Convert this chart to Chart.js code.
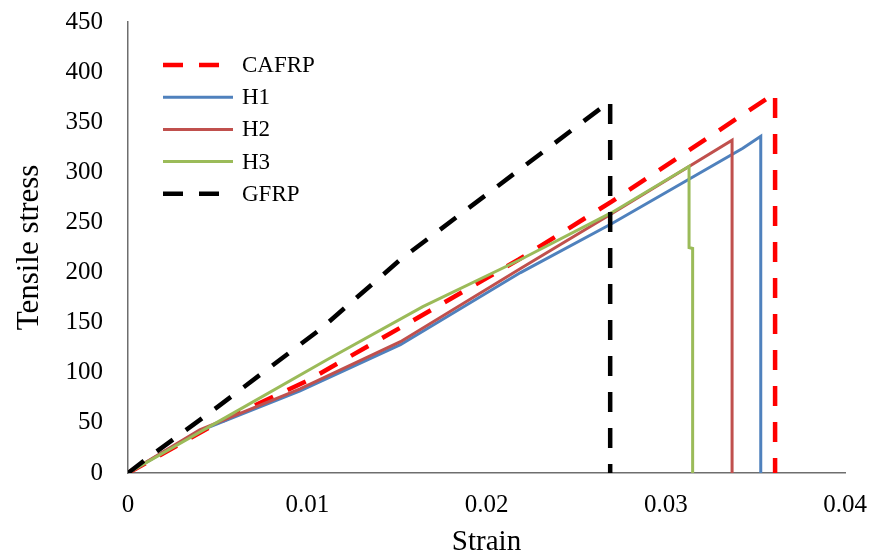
<!DOCTYPE html>
<html>
<head>
<meta charset="utf-8">
<script src="https://cdn.jsdelivr.net/npm/chart.js@4/dist/chart.umd.min.js"></script>
<style>
  html, body { margin: 0; padding: 0; background: #fff; }
  #wrap { width: 871px; height: 557px; }
</style>
</head>
<body>
<div id="wrap"><canvas id="chart" width="871" height="557"></canvas></div>
<script>
const seriesNames = ['CAFRP', 'H1', 'H2', 'H3', 'GFRP'];

const cafrpStrain = [0, 0.005, 0.010, 0.0152, 0.0218, 0.027, 0.0361, 0.0361];
const cafrpStress = [0, 50, 92, 145, 213, 271, 379, 0];

const h1Strain = [0, 0.004, 0.0096, 0.0152, 0.0219, 0.027, 0.0343, 0.0353, 0.0353];
const h1Stress = [0, 42, 82, 128, 200, 249, 324, 336, 0];

const h2Strain = [0, 0.004, 0.0096, 0.0152, 0.0219, 0.027, 0.0337, 0.0337];
const h2Stress = [0, 43, 84, 131, 204, 259, 332, 0];

const h3Strain = [0, 0.0057, 0.0111, 0.01645, 0.0219, 0.027, 0.0313, 0.0313, 0.0315, 0.0315];
const h3Stress = [0, 58, 113, 166, 213, 260, 306, 225, 224, 0];

const gfrpStrain = [0, 0.0008, 0.005, 0.0107, 0.0152, 0.0269, 0.0269];
const gfrpStress = [0, 11, 66, 143, 213, 371, 0];

const xTicks = [0, 0.01, 0.02, 0.03, 0.04];
const yTicks = [0, 50, 100, 150, 200, 250, 300, 350, 400, 450];

const serif = "'Liberation Serif', 'Times New Roman', serif";

function pairs(xs, ys) {
  return xs.map((x, i) => ({ x: x, y: ys[i] }));
}

const styles = [
  { color: '#FF0000', width: 4.5, dash: [20, 16] },
  { color: '#4F81BD', width: 3, dash: [] },
  { color: '#C0504D', width: 3, dash: [] },
  { color: '#9BBB59', width: 3, dash: [] },
  { color: '#000000', width: 4.5, dash: [20, 16] }
];

const allData = [
  pairs(cafrpStrain, cafrpStress),
  pairs(h1Strain, h1Stress),
  pairs(h2Strain, h2Stress),
  pairs(h3Strain, h3Stress),
  pairs(gfrpStrain, gfrpStress)
];

const datasets = seriesNames.map((name, i) => ({
  label: name,
  data: allData[i],
  showLine: true,
  borderColor: styles[i].color,
  backgroundColor: styles[i].color,
  borderWidth: styles[i].width,
  borderDash: styles[i].dash,
  pointRadius: 0,
  pointHoverRadius: 0,
  tension: 0,
  fill: false,
  order: -i
}));

// legend drawn inside the plot, like the Excel one
const insideLegend = {
  id: 'insideLegend',
  afterDraw(chart) {
    const ctx = chart.ctx;
    ctx.save();
    chart.data.datasets.forEach((ds, i) => {
      const y = 65 + i * 32.2;
      ctx.beginPath();
      ctx.strokeStyle = ds.borderColor;
      ctx.lineWidth = ds.borderWidth;
      ctx.setLineDash(ds.borderDash);
      ctx.moveTo(163, y);
      ctx.lineTo(233, y);
      ctx.stroke();
      ctx.setLineDash([]);
      ctx.fillStyle = '#000';
      ctx.font = '23px ' + serif;
      ctx.textAlign = 'left';
      ctx.textBaseline = 'middle';
      ctx.fillText(ds.label, 242, y + 1);
    });
    ctx.restore();
  }
};

new Chart(document.getElementById('chart'), {
  type: 'scatter',
  data: { datasets },
  plugins: [insideLegend],
  options: {
    responsive: false,
    animation: false,
    layout: { padding: { left: 0, right: 26, top: 22, bottom: 0 } },
    plugins: {
      legend: { display: false },
      tooltip: { enabled: false }
    },
    scales: {
      x: {
        type: 'linear',
        min: 0,
        max: 0.04,
        afterBuildTicks: s => { s.ticks = xTicks.map(v => ({ value: v })); },
        afterFit: s => {
          s.height = 84;
          s.paddingLeft = 0;
          s.paddingRight = 0;
        },
        grid: { display: false, drawTicks: false },
        border: { display: true, color: '#6e6e6e', width: 1.5 },
        ticks: {
          padding: 17,
          color: '#000',
          font: { family: serif, size: 25 },
          maxRotation: 0,
          callback: v => v === 0 ? '0' : String(+v.toFixed(2))
        },
        title: {
          display: true,
          text: 'Strain',
          color: '#000',
          font: { family: serif, size: 29, lineHeight: 1 },
          padding: { top: 1, bottom: 0 }
        }
      },
      y: {
        type: 'linear',
        min: 0,
        max: 450,
        afterBuildTicks: s => { s.ticks = yTicks.map(v => ({ value: v })); },
        afterFit: s => {
          s.width = 128;
          s.paddingTop = 0;
          s.paddingBottom = 0;
        },
        grid: { display: false, drawTicks: false },
        border: { display: true, color: '#6e6e6e', width: 1.5 },
        ticks: {
          padding: 25,
          color: '#000',
          font: { family: serif, size: 25 }
        },
        title: {
          display: true,
          text: 'Tensile stress',
          color: '#000',
          font: { family: serif, size: 31, lineHeight: 1 },
          padding: { top: 14, bottom: 0 }
        }
      }
    }
  }
});
</script>
</body>
</html>
